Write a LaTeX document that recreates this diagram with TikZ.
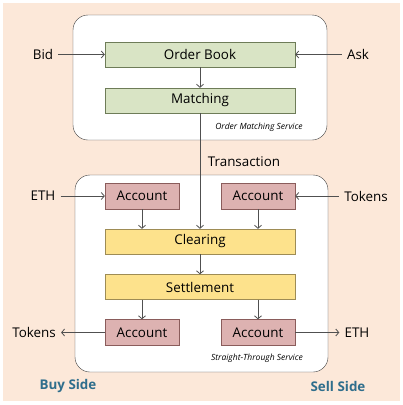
\documentclass[tikz,border=0pt]{standalone}
\usepackage{fontspec}
\setmainfont{Open Sans}
\usetikzlibrary{arrows.meta}

\definecolor{peach}{HTML}{FCE8D9}
\definecolor{bookfill}{HTML}{D9E4C5}
\definecolor{bookdraw}{HTML}{6E7C58}
\definecolor{acctfill}{HTML}{DDB2B1}
\definecolor{acctdraw}{HTML}{8A5C5B}
\definecolor{stepfill}{HTML}{FDE28C}
\definecolor{stepdraw}{HTML}{9E8C55}
\definecolor{sidetext}{HTML}{2F6E8C}
\definecolor{wire}{HTML}{505050}

\begin{document}
\begin{tikzpicture}
[x=1pt,y=-1pt,font=\fontsize{13.4}{15}\selectfont,
  greenBox/.style={draw=bookdraw,fill=bookfill,minimum width=190pt,minimum height=25pt,inner sep=0pt},%
  yellowBox/.style={draw=stepdraw,fill=stepfill,minimum width=190pt,minimum height=25pt,inner sep=0pt},%
  pinkBox/.style={draw=acctdraw,fill=acctfill,minimum width=74pt,minimum height=26pt,inner sep=0pt},%
  serviceBox/.style={draw=black!75,fill=white,rounded corners=15pt},%
  sideLabel/.style={text=sidetext,font=\fontsize{13.4}{15}\selectfont\bfseries},%
  serviceLabel/.style={font=\fontsize{8.5}{10}\selectfont\itshape},%
  flowLine/.style={draw=wire,line width=0.8pt,-{Straight Barb[length=3pt,width=7pt]}}]
\useasboundingbox (0,0) rectangle (403,405);
\fill[white] (0,0) rectangle (403,405);
\fill[peach] (3,3) rectangle (400,401);
%% the two services
\draw[serviceBox] (73,15) rectangle (327,140);
\draw[serviceBox] (75,175) rectangle (328,372);
\node[serviceLabel] (omsLabel) at (259,127) {Order Matching Service};
\node[serviceLabel] (stsLabel) at (257,358) {Straight-Through Service};
%% the boxes
\foreach \nodename/\x/\y/\kind/\txt in {book/200/54.5/greenBox/Order Book,
  match/200/100.5/greenBox/Matching, clear/200/241.5/yellowBox/Clearing,
  settle/200/287/yellowBox/Settlement, buyIn/142/196/pinkBox/Account,
  sellIn/258/196/pinkBox/Account, buyOut/142/332.5/pinkBox/Account,
  sellOut/258/332.5/pinkBox/Account}
{
  \node[\kind] (\nodename) at (\x,\y) {\txt};
}
%% the outside texts
\foreach \nodename/\x/\y/\txt in {bid/43/54.5/Bid, ask/358/54.5/Ask,
  ethIn/43/196/ETH, tokIn/366/196/Tokens, tokOut/34/332.5/Tokens,
  ethOut/357/332.5/ETH}
{
  \node[outer sep=2pt] (\nodename) at (\x,\y) {\txt};
}
\node (trans) at (244,162) {Transaction};
\node[sideLabel] (buy) at (68,386) {Buy Side};
\node[sideLabel] (sell) at (338,386) {Sell Side};
%% the flows
\foreach \u/\v in {bid/book, ask/book, ethIn/buyIn, tokIn/sellIn,
  buyOut/tokOut, sellOut/ethOut}
{
  \draw[flowLine] (\u) -- (\v);
}
\foreach \u/\v in {book/match, match/clear, clear/settle}
{
  \draw[flowLine] (\u) -- (\v);
}
\foreach \u/\v in {buyIn/clear, sellIn/clear}
{
  \draw[flowLine] (\u.south) -- (\v.north -| \u);
}
\foreach \u/\v in {settle/buyOut, settle/sellOut}
{
  \draw[flowLine] (\u.south -| \v) -- (\v.north);
}
\end{tikzpicture}
\end{document}
